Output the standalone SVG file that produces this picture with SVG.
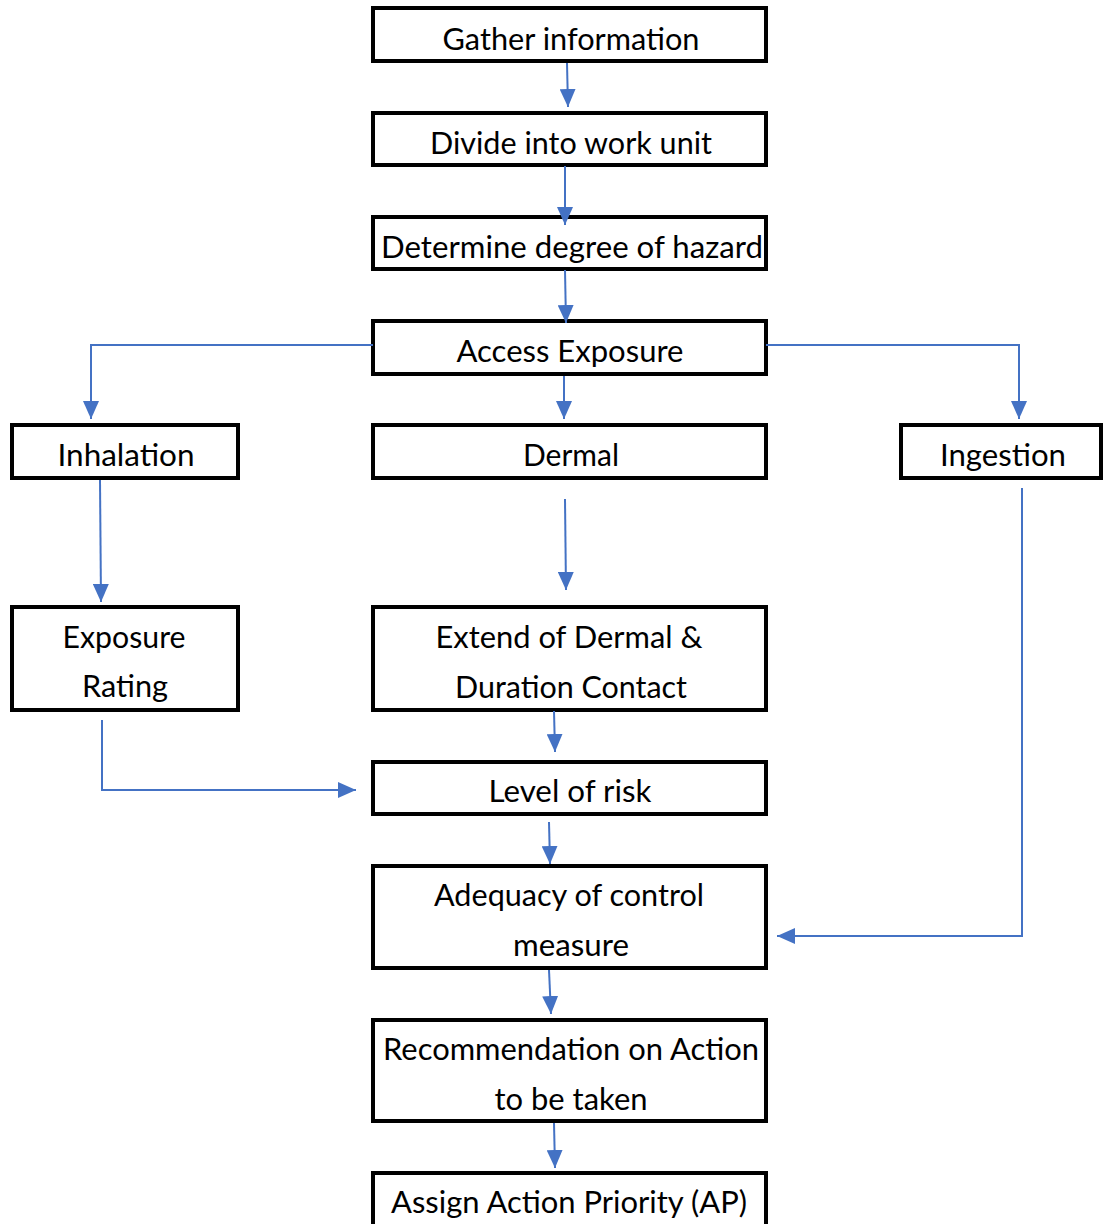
<svg xmlns="http://www.w3.org/2000/svg" width="1104" height="1224" viewBox="0 0 1104 1224">
<style>
.box{fill:#fff;stroke:#000;stroke-width:4}
.t{font-family:Lato,"Open Sans","Liberation Sans",sans-serif;font-size:31px;fill:#000;text-anchor:middle}
.c{fill:none;stroke:#4472C4;stroke-width:2}
</style>
<defs>
<marker id="ah" markerUnits="userSpaceOnUse" markerWidth="20" markerHeight="16" refX="18" refY="8" orient="auto">
<path d="M0,0 L18,8 L0,16 Z" fill="#4472C4"/>
</marker>
</defs>
<rect width="1104" height="1224" fill="#fff"/>
<g id="n1"><rect class="box" x="373" y="8" width="393" height="53"/><text class="t" x="571" y="50" textLength="257" lengthAdjust="spacingAndGlyphs">Gather information</text></g>
<g id="n2"><rect class="box" x="373" y="113" width="393" height="52"/><text class="t" x="571" y="154" textLength="282" lengthAdjust="spacingAndGlyphs">Divide into work unit</text></g>
<g id="n3"><rect class="box" x="373" y="217" width="393" height="52"/><text class="t" x="572" y="258" textLength="382" lengthAdjust="spacingAndGlyphs">Determine degree of hazard</text></g>
<g id="n4"><rect class="box" x="373" y="321" width="393" height="53"/><text class="t" x="570" y="362" textLength="227" lengthAdjust="spacingAndGlyphs">Access Exposure</text></g>
<g id="n5"><rect class="box" x="12" y="425" width="226" height="53"/><text class="t" x="126" y="466" textLength="137" lengthAdjust="spacingAndGlyphs">Inhalation</text></g>
<g id="n6"><rect class="box" x="373" y="425" width="393" height="53"/><text class="t" x="571" y="466" textLength="96" lengthAdjust="spacingAndGlyphs">Dermal</text></g>
<g id="n7"><rect class="box" x="901" y="425" width="200" height="53"/><text class="t" x="1003" y="466" textLength="126" lengthAdjust="spacingAndGlyphs">Ingestion</text></g>
<g id="n8"><rect class="box" x="12" y="607" width="226" height="103"/><text class="t" x="124" y="648" textLength="123" lengthAdjust="spacingAndGlyphs">Exposure</text><text class="t" x="125" y="697" textLength="86" lengthAdjust="spacingAndGlyphs">Rating</text></g>
<g id="n9"><rect class="box" x="373" y="607" width="393" height="103"/><text class="t" x="569" y="648" textLength="267" lengthAdjust="spacingAndGlyphs">Extend of Dermal &amp;</text><text class="t" x="571" y="698" textLength="232" lengthAdjust="spacingAndGlyphs">Duration Contact</text></g>
<g id="n10"><rect class="box" x="373" y="762" width="393" height="52"/><text class="t" x="570" y="802" textLength="163" lengthAdjust="spacingAndGlyphs">Level of risk</text></g>
<g id="n11"><rect class="box" x="373" y="866" width="393" height="102"/><text class="t" x="569" y="906" textLength="270" lengthAdjust="spacingAndGlyphs">Adequacy of control</text><text class="t" x="571" y="956" textLength="116" lengthAdjust="spacingAndGlyphs">measure</text></g>
<g id="n12"><rect class="box" x="373" y="1020" width="393" height="101"/><text class="t" x="571" y="1060" textLength="376" lengthAdjust="spacingAndGlyphs">Recommendation on Action</text><text class="t" x="571" y="1110" textLength="153" lengthAdjust="spacingAndGlyphs">to be taken</text></g>
<g id="n13"><rect class="box" x="373" y="1173" width="393" height="60"/><text class="t" x="569" y="1213" textLength="356" lengthAdjust="spacingAndGlyphs">Assign Action Priority (AP)</text></g>
<g id="connectors">
<path class="c" d="M567,63 L568,107" marker-end="url(#ah)"/>
<path class="c" d="M565,166 L565,225" marker-end="url(#ah)"/>
<path class="c" d="M565,270 L566,323" marker-end="url(#ah)"/>
<path class="c" d="M373,345 L91,345 L91,419" marker-end="url(#ah)"/>
<path class="c" d="M766,345 L1019,345 L1019,419" marker-end="url(#ah)"/>
<path class="c" d="M564,376 L564,419" marker-end="url(#ah)"/>
<path class="c" d="M100,480 L101,602" marker-end="url(#ah)"/>
<path class="c" d="M565,499 L566,590" marker-end="url(#ah)"/>
<path class="c" d="M1022,488 L1022,936 L777,936" marker-end="url(#ah)"/>
<path class="c" d="M102,720 L102,790 L356,790" marker-end="url(#ah)"/>
<path class="c" d="M554,711 L555,752" marker-end="url(#ah)"/>
<path class="c" d="M549,822 L550,864" marker-end="url(#ah)"/>
<path class="c" d="M549,970 L551,1014" marker-end="url(#ah)"/>
<path class="c" d="M554,1123 L555,1168" marker-end="url(#ah)"/>
</g>
</svg>
